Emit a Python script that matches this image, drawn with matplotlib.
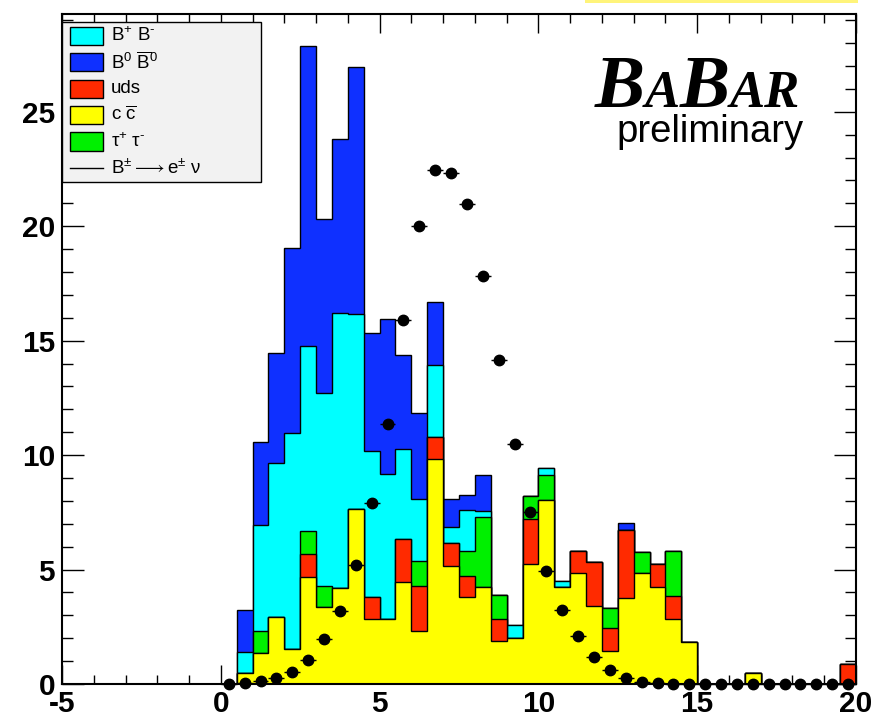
import numpy as np
import matplotlib
matplotlib.use('Agg')
import matplotlib.pyplot as plt
from matplotlib.patches import Rectangle
from matplotlib.lines import Line2D
from matplotlib.ticker import MultipleLocator

plt.rcParams['font.family'] = ['Liberation Sans', 'DejaVu Sans']
plt.rcParams['mathtext.fontset'] = 'custom'
plt.rcParams['mathtext.rm'] = 'Liberation Sans'
plt.rcParams['mathtext.it'] = 'Liberation Sans:italic'
plt.rcParams['mathtext.bf'] = 'Liberation Sans:bold'
plt.rcParams['mathtext.fallback'] = 'stix'
plt.rcParams['axes.unicode_minus'] = False

# histogram bins (width 0.5) from 0 to 20, nothing below 0
edges = np.arange(0, 20.5, 0.5)
centers = edges[:-1] + 0.25

# background components, one value per bin
ccbar = [0, 0.47, 1.37, 2.91, 1.53, 4.69, 3.38, 4.18, 7.65, 2.85,
         2.83, 4.44, 2.33, 9.82, 5.16, 3.79, 4.25, 1.89, 2.00, 5.24,
         8.04, 4.22, 4.84, 3.41, 1.44, 3.74, 4.84, 4.25, 2.84, 1.85,
         0, 0, 0, 0.47, 0, 0, 0, 0, 0, 0]
uds = [0, 0, 0, 0, 0, 0.98, 0, 0, 0, 0.96,
       0, 1.89, 1.95, 0.98, 0.99, 0.94, 0, 0.95, 0, 1.95,
       0, 0, 0.98, 1.93, 0.99, 2.99, 0, 0.98, 1.00, 0,
       0, 0, 0, 0, 0, 0, 0, 0, 0, 0.87]
tautau = [0, 0, 0.96, 0, 0, 1.03, 0.92, 0, 0, 0,
          0, 0, 1.09, 0, 0, 1.08, 3.06, 1.05, 0, 1.04,
          1.09, 0, 0, 0, 0.89, 0, 0.93, 0, 1.98, 0,
          0, 0, 0, 0, 0, 0, 0, 0, 0, 0]
bpbm = [0, 0.94, 4.62, 6.73, 9.42, 8.08, 8.40, 12.04, 8.51, 6.37,
        6.33, 3.94, 2.71, 3.14, 0.72, 1.79, 0.25, 0, 0.58, 0,
        0.29, 0.28, 0, 0, 0, 0, 0, 0, 0, 0,
        0, 0, 0, 0, 0, 0, 0, 0, 0, 0]
b0b0 = [0, 1.82, 3.64, 4.81, 8.08, 13.11, 7.60, 7.60, 10.78, 5.17,
        6.77, 4.10, 3.75, 2.74, 1.21, 0.66, 1.57, 0, 0, 0,
        0, 0, 0, 0, 0, 0.29, 0, 0, 0, 0,
        0, 0, 0, 0, 0, 0, 0, 0, 0, 0]

# signal B -> e nu (points)
signal = [0, 0.03, 0.13, 0.25, 0.54, 1.05, 1.95, 3.19, 5.20, 7.92,
          11.35, 15.90, 20.02, 22.45, 22.34, 20.96, 17.82, 14.15, 10.50, 7.50,
          4.95, 3.23, 2.10, 1.19, 0.61, 0.28, 0.10, 0.03, 0.02, 0,
          0, 0, 0, 0, 0, 0, 0, 0, 0, 0]

c_yellow = '#ffff00'
c_red = '#ff2a00'
c_green = '#00f000'
c_cyan = '#00ffff'
c_blue = '#0f30ff'

W, H = 880, 717
fig = plt.figure(figsize=(8.8, 7.17), dpi=100)
ax = fig.add_axes([62 / W, 1 - 684 / H, (856 - 62) / W, (684 - 14) / H])

# stack: bottom to top
layers = [(ccbar, c_yellow), (uds, c_red), (tautau, c_green), (bpbm, c_cyan), (b0b0, c_blue)]
cum = np.cumsum(np.array([l[0] for l in layers]), axis=0)
for k in range(len(layers) - 1, -1, -1):
    ax.stairs(cum[k], edges, baseline=0, fill=True, facecolor=layers[k][1],
              edgecolor='black', linewidth=1.0, zorder=2 + (len(layers) - k) * 0.01)

eb = ax.errorbar(centers, signal, xerr=0.25, fmt='o', color='black', ms=7.5,
                 elinewidth=1.0, capsize=0, zorder=5)
eb.lines[0].set_clip_on(False)
for coll in eb.lines[2]:
    coll.set_clip_on(False)

ax.set_xlim(-5, 20)
ax.set_ylim(0, 29.27)
ax.set_xticks([-5, 0, 5, 10, 15, 20])
ax.set_yticks([0, 5, 10, 15, 20, 25])
ax.xaxis.set_minor_locator(MultipleLocator(1))
ax.yaxis.set_minor_locator(MultipleLocator(1))
ax.tick_params(axis='x', which='major', direction='in', length=13.5, width=1, top=True, pad=4.5, labelsize=21.5)
ax.tick_params(axis='x', which='minor', direction='in', length=6.5, width=1, top=True)
ax.tick_params(axis='y', which='major', direction='in', length=15.5, width=1, right=True, pad=5, labelsize=21.5)
ax.tick_params(axis='y', which='minor', direction='in', length=8, width=1, right=True)
for lbl in ax.get_xticklabels() + ax.get_yticklabels():
    lbl.set_fontweight('bold')
for s in ax.spines.values():
    s.set_linewidth(1.5)
    s.set_zorder(10)


def fx(px):
    return px / W


def fy(py):
    return 1 - py / H


# legend box
fig.patches.append(Rectangle((fx(62), fy(182)), fx(261) - fx(62), fy(22) - fy(182),
                             transform=fig.transFigure, facecolor='#f2f2f2',
                             edgecolor='black', linewidth=1.0, zorder=20))
entries = [(c_cyan, 'B$^{+}$ B$^{\u2010}$'),
           (c_blue, 'B$^{0}$ $\\overline{\\mathrm{B}}^{0}$'),
           (c_red, 'uds'),
           (c_yellow, 'c $\\overline{\\mathrm{c}}$'),
           (c_green, '\u03c4$^{+}$ \u03c4$^{\u2010}$')]
rows = [35.5, 62, 88.5, 115, 141.5]
for (col, txt), yc in zip(entries, rows):
    fig.patches.append(Rectangle((fx(69.5), fy(yc + 9)), fx(103) - fx(69.5), fy(yc - 9) - fy(yc + 9),
                                 transform=fig.transFigure, facecolor=col,
                                 edgecolor='black', linewidth=1.0, zorder=21))
    fig.text(fx(111), fy(yc), txt, fontsize=13.5, va='center', ha='left', zorder=22)
fig.lines.append(Line2D([fx(70), fx(103)], [fy(168), fy(168)], transform=fig.transFigure,
                        color='black', linewidth=1.0, zorder=21))
fig.text(fx(111), fy(168), 'B$^{\\pm}$$\\longrightarrow$e$^{\\pm}$ \u03bd', fontsize=13.5,
         va='center', ha='left', zorder=22)

# yellow strip at the top
fig.patches.append(Rectangle((fx(585), fy(3)), fx(858) - fx(585), fy(0) - fy(3),
                             transform=fig.transFigure, facecolor='#fff47a',
                             edgecolor='none'))

# BaBar logo
fig.canvas.draw()
r = fig.canvas.get_renderer()
x = 595.0
for s, size in [('B', 54), ('A', 38), ('B', 54), ('AR', 38)]:
    t = fig.text(fx(x), fy(106.7), s, fontsize=size, family='Liberation Serif',
                 style='italic', weight='bold', va='baseline', ha='left')
    bb = t.get_window_extent(r)
    x = bb.x1
fig.text(fx(804), fy(142), 'preliminary', fontsize=27.5, ha='right', va='baseline')

fig.savefig('out.png', dpi=100)
